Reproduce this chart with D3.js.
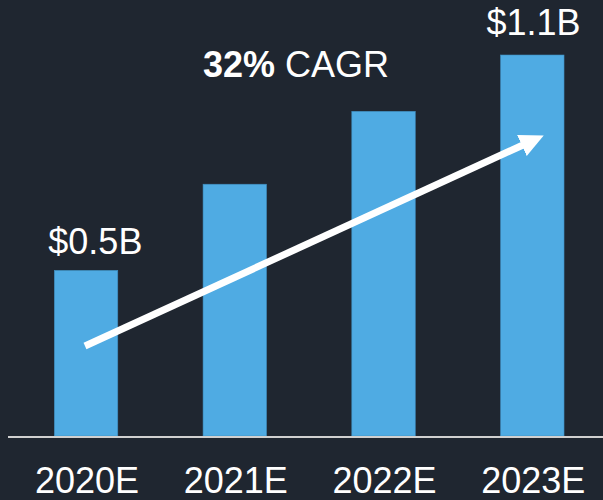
<!DOCTYPE html>
<html>
<head>
<meta charset="utf-8">
<script src="https://cdn.jsdelivr.net/npm/d3@7"></script>
<style>
  html, body { margin: 0; padding: 0; background: #1f2630; }
  text { font-family: "Liberation Sans", Arial, sans-serif; fill: #ffffff; }
</style>
</head>
<body>
<script>
var years = ["2020E", "2021E", "2022E", "2023E"];
var revenue = [0.50, 0.76, 0.98, 1.15];
var valueLabels = ["$0.5B", "", "", "$1.1B"];
var growthLabel = ["32%", " CAGR"];

var svgWidth = 603;
var svgHeight = 500;
var margin = { top: 55, right: 0, bottom: 64, left: 8 };

var svg = d3.select("body")
        .append("svg")
        .attr("width", svgWidth)
        .attr("height", svgHeight);

svg.append("rect")
        .attr("width", svgWidth)
        .attr("height", svgHeight)
        .attr("fill", "#1f2630");

var baseY = svgHeight - margin.bottom;

var xScale = d3.scaleBand()
        .domain(years)
        .range([margin.left, svgWidth - margin.right])
        .paddingInner(0.5733)
        .paddingOuter(0.2867)
        .align(0.543);

var yScale = d3.scaleLinear()
        .domain([0, d3.max(revenue)])
        .range([baseY, margin.top]);

svg.selectAll(".bar")
        .data(revenue)
        .enter()
        .append("rect")
        .attr("class", "bar")
        .attr("x", function (d, i) { return xScale(years[i]); })
        .attr("y", function (d) { return yScale(d); })
        .attr("width", xScale.bandwidth())
        .attr("height", function (d) { return baseY - yScale(d); })
        .attr("fill", "#4fabe3")
        .attr("stroke", "#3f8cbd")
        .attr("stroke-width", 0.6);

// baseline
svg.append("line")
        .attr("x1", margin.left)
        .attr("x2", svgWidth)
        .attr("y1", baseY + 1)
        .attr("y2", baseY + 1)
        .attr("stroke", "#d0d0d0")
        .attr("stroke-width", 2);

// year labels
svg.selectAll(".year")
        .data(years)
        .enter()
        .append("text")
        .attr("class", "year")
        .attr("x", function (d) { return xScale(d) + xScale.bandwidth() / 2 + 1; })
        .attr("y", 493)
        .attr("text-anchor", "middle")
        .style("font-size", "36px")
        .text(function (d) { return d; });

// value labels
svg.append("text")
        .attr("x", xScale(years[0]) - 6)
        .attr("y", yScale(revenue[0]) - 16)
        .style("font-size", "36px")
        .text(valueLabels[0]);

svg.append("text")
        .attr("x", xScale(years[3]) - 14)
        .attr("y", yScale(revenue[3]) - 20)
        .style("font-size", "36px")
        .text(valueLabels[3]);

// CAGR label
var cagr = svg.append("text")
        .attr("x", 203)
        .attr("y", 77)
        .style("font-size", "36px");
cagr.append("tspan").style("font-weight", "bold").text(growthLabel[0]);
cagr.append("tspan").text(growthLabel[1]);

// growth arrow
var defs = svg.append("defs");
defs.append("marker")
        .attr("id", "head")
        .attr("viewBox", "0 0 10 10")
        .attr("refX", 0.5)
        .attr("refY", 5)
        .attr("markerUnits", "userSpaceOnUse")
        .attr("markerWidth", 24)
        .attr("markerHeight", 23)
        .attr("preserveAspectRatio", "none")
        .attr("orient", "auto")
        .append("path")
        .attr("d", "M0,0 L10,5 L0,10 Z")
        .attr("fill", "#ffffff");

svg.append("line")
        .attr("x1", 85)
        .attr("y1", 346)
        .attr("x2", 523)
        .attr("y2", 145)
        .attr("stroke", "#ffffff")
        .attr("stroke-width", 7)
        .attr("marker-end", "url(#head)");
</script>
</body>
</html>
